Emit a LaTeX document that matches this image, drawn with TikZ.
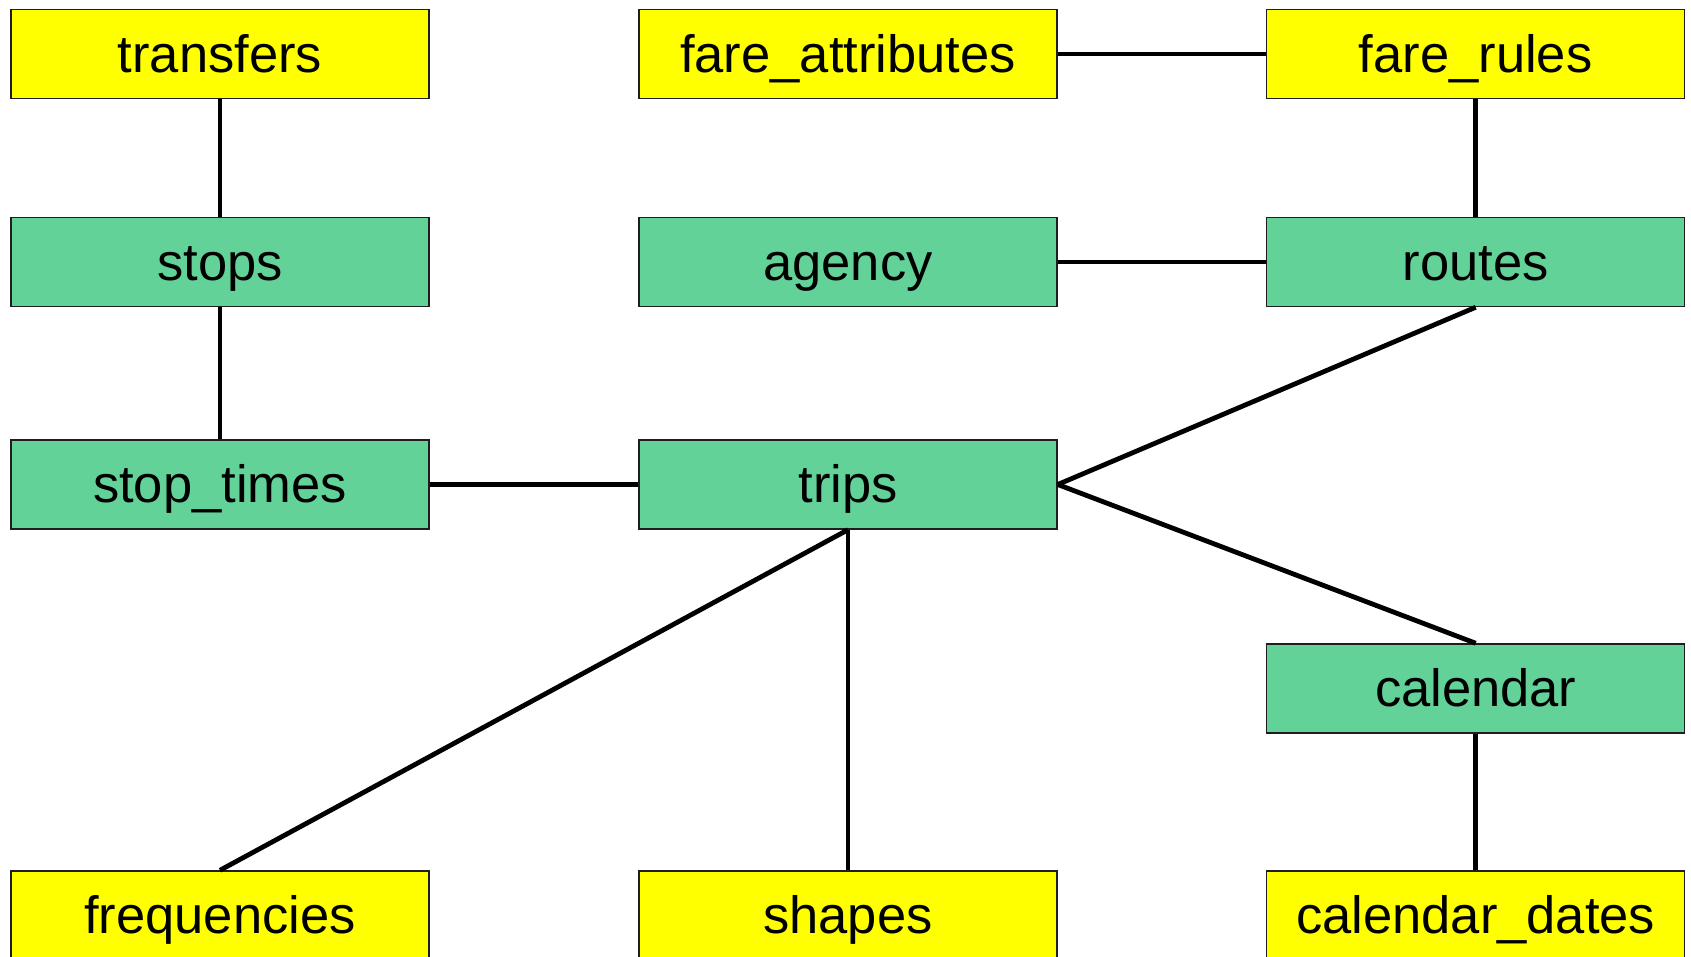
\documentclass[tikz,border=0pt]{standalone}
\usepackage{fontspec}
\setmainfont{Liberation Sans}
\definecolor{tblyellow}{RGB}{255,255,0}
\definecolor{tblgreen}{RGB}{98,210,152}
\definecolor{tbledge}{RGB}{30,30,30}
\begin{document}
\begin{tikzpicture}[x=1pt,y=-1pt,
  table/.style={rectangle,draw=tbledge,line width=1.5pt,minimum width=418pt,
    minimum height=89pt,inner sep=0pt,text height=38.9pt,text depth=2.6pt,
    font=\fontsize{52.5}{60}\selectfont},
  optional/.style={table,fill=tblyellow},
  required/.style={table,fill=tblgreen},
  link/.style={line width=4.8pt,black}]
\useasboundingbox (0,0) rectangle (1691,957);
% tables of the feed
\node[optional] (transfers) at (220,54) {transfers};
\node[optional] (fareattr) at (848,54) {fare\_attributes};
\node[optional] (farerules) at (1475.7,54) {fare\_rules};
\node[required] (stops) at (220,262) {stops};
\node[required] (agency) at (848,262) {agency};
\node[required] (routes) at (1475.7,262) {routes};
\node[required] (stoptimes) at (220,484.5) {stop\_times};
\node[required] (trips) at (848,484.5) {trips};
\node[required] (calendar) at (1475.7,688.5) {calendar};
\node[optional] (frequencies) at (220,915.5) {frequencies};
\node[optional] (shapes) at (848,915.5) {shapes};
\node[optional] (caldates) at (1475.7,915.5) {calendar\_dates};
% relations
\draw[link] (transfers.south) -- (stops.north);
\draw[link] (stops.south) -- (stoptimes.north);
\draw[link] (fareattr.east) -- (farerules.west);
\draw[link] (farerules.south) -- (routes.north);
\draw[link] (agency.east) -- (routes.west);
\draw[link] (routes.south) -- (trips.east);
\draw[link] (trips.east) -- (calendar.north);
\draw[link] (stoptimes.east) -- (trips.west);
\draw[link] (trips.south) -- (frequencies.north);
\draw[link] (trips.south) -- (shapes.north);
\draw[link] (calendar.south) -- (caldates.north);
\end{tikzpicture}
\end{document}
